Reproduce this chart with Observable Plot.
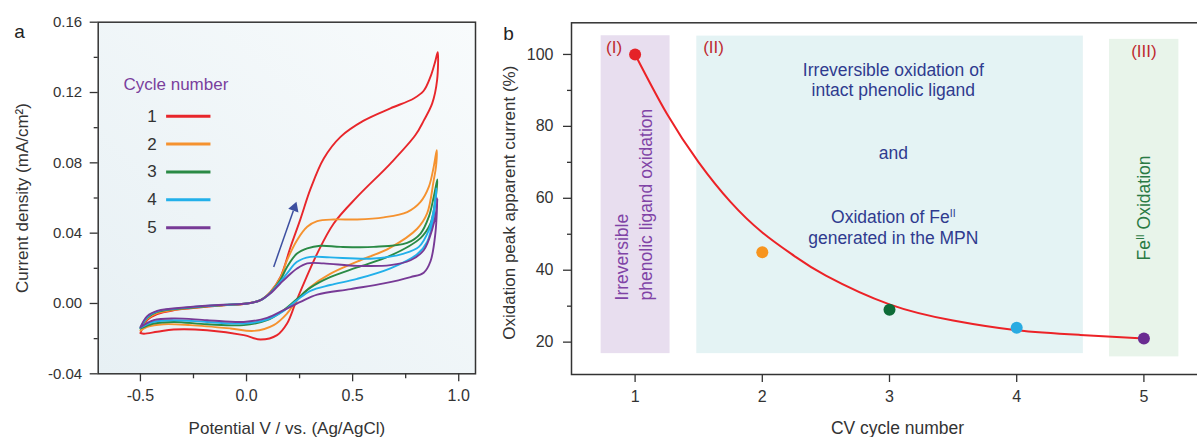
<!DOCTYPE html>
<html><head><meta charset="utf-8">
<script src="https://cdn.jsdelivr.net/npm/d3@7"></script>
<script src="https://cdn.jsdelivr.net/npm/@observablehq/plot@0.6"></script>
<style>
html,body{margin:0;padding:0;background:#fff;overflow:hidden;width:1197px;height:437px;}
#wrap{position:relative;width:1197px;height:437px;overflow:hidden;}
#a{position:absolute;left:0;top:0;width:480px;}
#b{position:absolute;left:480px;top:0;width:737px;}
#a svg,#b svg{overflow:visible;max-width:none !important;}
</style></head><body><div id="wrap"><div id="a"></div><div id="b"></div></div>
<script>
// ---------- Panel a data: cyclic voltammograms (V vs Ag/AgCl, mA/cm2) ----------
const cycles = [1, 2, 3, 4, 5];
const cycleColors = ["#e8262b", "#f5922f", "#2a8a45", "#22b0ea", "#773a96"];
const cycle1 = [[-0.50,-0.0168],[-0.468,-0.0095],[-0.421,-0.0060],[-0.34,-0.0038],[-0.264,-0.0028],[-0.107,-0.0010],[0.003,0.0],[0.066,0.0019],[0.113,0.0066],[0.160,0.0151],[0.207,0.032],[0.254,0.048],[0.301,0.065],[0.364,0.0825],[0.443,0.0948],[0.552,0.104],[0.678,0.111],[0.788,0.1166],[0.835,0.121],[0.867,0.129],[0.890,0.138],[0.901,0.143],
  [0.898,0.127],[0.875,0.1138],[0.835,0.104],[0.796,0.0958],[0.678,0.0796],[0.521,0.0606],[0.411,0.0455],[0.333,0.0284],[0.27,0.0114],[0.23,0.0],[0.191,-0.0114],[0.144,-0.018],[0.066,-0.0205],[-0.013,-0.018],[-0.186,-0.0152],[-0.343,-0.0148],[-0.421,-0.0161],[-0.484,-0.0172],[-0.50,-0.0168]];
const cycle2 = [[-0.50,-0.0155],[-0.468,-0.0088],[-0.421,-0.0055],[-0.264,-0.0026],[-0.107,-0.0010],[0.003,0.0],[0.066,0.0019],[0.113,0.0066],[0.160,0.0148],[0.191,0.0246],[0.238,0.036],[0.286,0.0436],[0.333,0.0468],[0.411,0.0478],[0.521,0.0478],[0.647,0.049],[0.757,0.052],[0.82,0.0578],[0.859,0.0663],[0.882,0.0777],[0.896,0.0872],
  [0.893,0.078],[0.882,0.070],[0.851,0.0512],[0.804,0.0425],[0.678,0.0318],[0.521,0.0238],[0.394,0.0168],[0.301,0.0094],[0.238,0.0019],[0.191,-0.0057],[0.128,-0.0123],[0.034,-0.0156],[-0.076,-0.0142],[-0.264,-0.0123],[-0.39,-0.0118],[-0.468,-0.0133],[-0.50,-0.0155]];
const cycle3 = [[-0.50,-0.0142],[-0.468,-0.0082],[-0.421,-0.0048],[-0.264,-0.0024],[-0.107,-0.0009],[0.003,0.0],[0.066,0.0019],[0.113,0.0062],[0.160,0.0135],[0.191,0.0208],[0.238,0.0284],[0.286,0.0313],[0.348,0.0328],[0.443,0.0322],[0.6,0.0322],[0.757,0.0345],[0.82,0.0398],[0.859,0.0493],[0.882,0.0606],[0.899,0.0705],
  [0.890,0.0588],[0.867,0.0455],[0.82,0.0372],[0.678,0.0272],[0.521,0.0205],[0.394,0.0150],[0.301,0.0090],[0.238,0.0026],[0.175,-0.0038],[0.097,-0.0095],[-0.013,-0.0123],[-0.186,-0.0118],[-0.343,-0.0105],[-0.437,-0.0114],[-0.50,-0.0142]];
const cycle4 = [[-0.50,-0.0138],[-0.468,-0.0078],[-0.421,-0.0045],[-0.264,-0.0022],[-0.107,-0.0008],[0.003,0.0],[0.066,0.0019],[0.113,0.0060],[0.160,0.0125],[0.191,0.0171],[0.238,0.0237],[0.301,0.0265],[0.394,0.0262],[0.6,0.0256],[0.741,0.0284],[0.812,0.0322],[0.859,0.0417],[0.882,0.053],[0.895,0.0654],
  [0.882,0.0493],[0.851,0.0350],[0.804,0.0280],[0.678,0.0200],[0.521,0.0140],[0.394,0.0105],[0.301,0.0072],[0.238,0.0019],[0.175,-0.0042],[0.097,-0.0091],[-0.013,-0.0114],[-0.186,-0.0105],[-0.343,-0.0095],[-0.437,-0.0104],[-0.50,-0.0138]];
const cycle5 = [[-0.50,-0.0135],[-0.468,-0.0072],[-0.421,-0.0042],[-0.264,-0.0020],[-0.107,-0.0007],[0.003,0.0],[0.066,0.0019],[0.113,0.0058],[0.160,0.0115],[0.191,0.0151],[0.238,0.0199],[0.286,0.0228],[0.364,0.0228],[0.521,0.0214],[0.678,0.0218],[0.773,0.0246],[0.835,0.0303],[0.874,0.0417],[0.895,0.053],[0.899,0.0597],
  [0.890,0.0400],[0.867,0.0240],[0.835,0.0175],[0.773,0.0150],[0.647,0.0114],[0.49,0.0082],[0.333,0.0050],[0.254,0.0009],[0.175,-0.0038],[0.097,-0.0082],[-0.013,-0.0105],[-0.186,-0.0095],[-0.343,-0.0085],[-0.437,-0.0095],[-0.50,-0.0135]];
const cvCurves = [cycle1, cycle2, cycle3, cycle4, cycle5];
const yTicksA = [-0.04, 0, 0.04, 0.08, 0.12, 0.16];
const yMinorA = [-0.02, 0.02, 0.06, 0.10, 0.14];
const xTicksA = [-0.5, 0, 0.5, 1.0];
const xMinorA = [-0.25, 0.25, 0.75];

// ---------- Panel b data ----------
const cvCycle = [1, 2, 3, 4, 5];
const peakCurrent = [100, 45, 29, 24, 21];
const pointColors = ["#e52228", "#f7941e", "#0d6b37", "#29abe2", "#6a2c91"];
const fitX = [1, 1.25, 1.5, 1.75, 2, 2.25, 2.5, 3, 3.5, 4, 4.5, 5];
const fitY = [100, 83.5, 70, 59, 50.5, 44, 38.5, 30.5, 26, 23.3, 22, 21];
const yTicksB = [20, 40, 60, 80, 100];
const yMinorB = [30, 50, 70, 90];
const xTicksB = [1, 2, 3, 4, 5];
const regionLabels = ["(I)", "(II)", "(III)"];

const ns = "http://www.w3.org/2000/svg";
const font = "'Liberation Sans', Arial, Helvetica, sans-serif";

const cvRows = cvCurves.flatMap((c, k) => c.map(([v, i]) => ({cycle: cycles[k], v, i})));

const legendTop = 0.1065, legendStep = 0.01585;

const plotA = Plot.plot({
  width: 480, height: 437,
  marginLeft: 97.7, marginRight: 5, marginTop: 21.7, marginBottom: 63.7,
  x: {domain: [-0.699, 1.079], label: null},
  y: {domain: [-0.04, 0.16], label: null},
  color: {type: "ordinal", domain: cycles, range: cycleColors},
  style: {fontFamily: font, fontSize: "15px", color: "#333", background: "transparent"},
  marks: [
    () => { const d = document.createElementNS(ns, "defs");
      d.innerHTML = `<linearGradient id="bgA" x1="0" y1="1" x2="1" y2="0"><stop offset="0" stop-color="#e7f0f4"/><stop offset="1" stop-color="#f8fbfc"/></linearGradient>`;
      return d; },
    Plot.frame({fill: "url(#bgA)", stroke: null}),
    Plot.line(cvRows, {x: "v", y: "i", z: "cycle", stroke: "cycle", curve: "catmull-rom", strokeWidth: 1.9}),
    Plot.text(["Cycle number"], {x: -0.58, y: 0.1247, text: d => d, textAnchor: "start", fill: "#7a3f9d", fontSize: 17}),
    Plot.text(cycles, {x: -0.445, y: (d, i) => legendTop - i * legendStep, text: d => String(d), fontSize: 17, fill: "#333"}),
    Plot.link(cycles, {x1: -0.379, x2: -0.17, y1: (d, i) => legendTop - i * legendStep, y2: (d, i) => legendTop - i * legendStep, stroke: d => d, strokeWidth: 3}),
    Plot.link([0], {x1: 0.128, y1: 0.0208, x2: 0.2206, y2: 0.0528, stroke: "#3d4fa0", strokeWidth: 1.5}),
    Plot.dot([0], {x: 0.2255, y: 0.0545, symbol: "triangle", r: 4, rotate: 19.3, fill: "#3d4fa0", stroke: null}),
    Plot.axisY(yTicksA, {tickSize: 8, tickPadding: 8, tickFormat: d => d.toFixed(2), fontSize: 15, strokeWidth: 1.3, label: null}),
    Plot.axisY(yMinorA, {tickSize: 4, text: null, strokeWidth: 1.3, label: null}),
    Plot.axisX(xTicksA, {tickSize: 8, tickPadding: 8, tickFormat: d => d.toFixed(1), fontSize: 16, strokeWidth: 1.3, label: null}),
    Plot.axisX(xMinorA, {tickSize: 5, text: null, strokeWidth: 1.3, label: null}),
    Plot.text(["Current density (mA/cm²)"], {frameAnchor: "left", dx: -75.7, dy: 0, rotate: -90, textAnchor: "middle", lineAnchor: "middle", text: d => d, fontSize: 17, fill: "#333"}),
    Plot.text(["Potential V / vs. (Ag/AgCl)"], {frameAnchor: "bottom", dx: 0, dy: 54.7, textAnchor: "middle", lineAnchor: "middle", text: d => d, fontSize: 17, fill: "#333"}),
    Plot.text(["a"], {frameAnchor: "top-left", dx: -78.7, dy: 9.5, textAnchor: "middle", lineAnchor: "middle", text: d => d, fontSize: 19, fill: "#222"}),
    Plot.frame({stroke: "#333", strokeWidth: 1.5})
  ]
});

const fitRows = fitX.map((x, i) => ({x, y: fitY[i]}));
const ptRows = cvCycle.map((x, i) => ({x, y: peakCurrent[i], c: pointColors[i]}));

const plotB = Plot.plot({
  width: 737, height: 437,
  marginLeft: 91, marginRight: 10, marginTop: 22.3, marginBottom: 63,
  x: {domain: [0.5, 5.5], label: null},
  y: {domain: [11.0, 108.8], label: null},
  style: {fontFamily: font, fontSize: "16px", color: "#333", background: "transparent"},
  marks: [
    Plot.rect([0], {x1: 0.733, x2: 1.275, y1: 16.8, y2: 105.2, fill: "#e8deef"}),
    Plot.rect([0], {x1: 1.485, x2: 4.524, y1: 16.8, y2: 105.1, fill: "#e4f3f4"}),
    Plot.rect([0], {x1: 4.73, x2: 5.275, y1: 15.9, y2: 104.2, fill: "#e8f4ea"}),
    Plot.text(regionLabels, {x: [0.835, 1.617, 5.0], y: [101.8, 101.8, 100.9], text: d => d, fontSize: 17, fill: "#be2a30"}),
    Plot.text(["Irreversible", "phenolic ligand oxidation"], {x: [0.903, 1.086], y: [31.6, 31.6], text: d => d, rotate: -90, textAnchor: "start", fontSize: 17.5, fill: "#8043a6"}),
    Plot.text(["Irreversible oxidation of", "intact phenolic ligand", "and", "Oxidation of Fe^II", "generated in the MPN"],
      {x: 3.03, y: [95.7, 90.0, 72.4, 54.8, 48.9], text: d => d, fontSize: 17.5, fill: "#2f3b8f"}),
    Plot.text(["Fe^II Oxidation"], {x: 5.0, y: 57.3, text: d => d, rotate: -90, fontSize: 17.5, fill: "#2a7a44"}),
    Plot.line(fitRows, {x: "x", y: "y", curve: "natural", stroke: "#ec2227", strokeWidth: 2}),
    Plot.dot(ptRows, {x: "x", y: "y", r: 6, fill: d => d.c, stroke: null}),
    Plot.axisY(yTicksB, {tickSize: 8, tickPadding: 10, tickFormat: d => String(d), fontSize: 16, strokeWidth: 1.3, label: null}),
    Plot.axisY(yMinorB, {tickSize: 4, text: null, strokeWidth: 1.3, label: null}),
    Plot.axisX(xTicksB, {tickSize: 8, tickPadding: 8, tickFormat: d => String(d), fontSize: 16, strokeWidth: 1.3, label: null}),
    Plot.text(["Oxidation peak apparent current (%)"], {frameAnchor: "left", dx: -62, dy: 4, rotate: -90, textAnchor: "middle", lineAnchor: "middle", text: d => d, fontSize: 17, fill: "#333"}),
    Plot.text(["CV cycle number"], {frameAnchor: "bottom", dx: 8, dy: 54, textAnchor: "middle", lineAnchor: "middle", text: d => d, fontSize: 17.5, fill: "#333"}),
    Plot.text(["b"], {frameAnchor: "top-left", dx: -63, dy: 10.7, textAnchor: "middle", lineAnchor: "middle", text: d => d, fontSize: 19, fill: "#222"}),
    Plot.frame({stroke: "#333", strokeWidth: 1.5})
  ]
});

function supify(svg) {
  svg.querySelectorAll("text").forEach(t => {
    if (t.children.length === 0 && t.textContent.includes("^II")) {
      const parts = t.textContent.split("^II");
      t.textContent = "";
      t.appendChild(document.createTextNode(parts[0]));
      const s = document.createElementNS(ns, "tspan");
      s.setAttribute("dy", "-6"); s.setAttribute("font-size", "10.5"); s.textContent = "II";
      t.appendChild(s);
      if (parts[1]) {
        const r = document.createElementNS(ns, "tspan");
        r.setAttribute("dy", "6"); r.textContent = parts[1];
        t.appendChild(r);
      }
    }
  });
}
supify(plotB);
document.getElementById("a").appendChild(plotA);
document.getElementById("b").appendChild(plotB);
</script></body></html>
